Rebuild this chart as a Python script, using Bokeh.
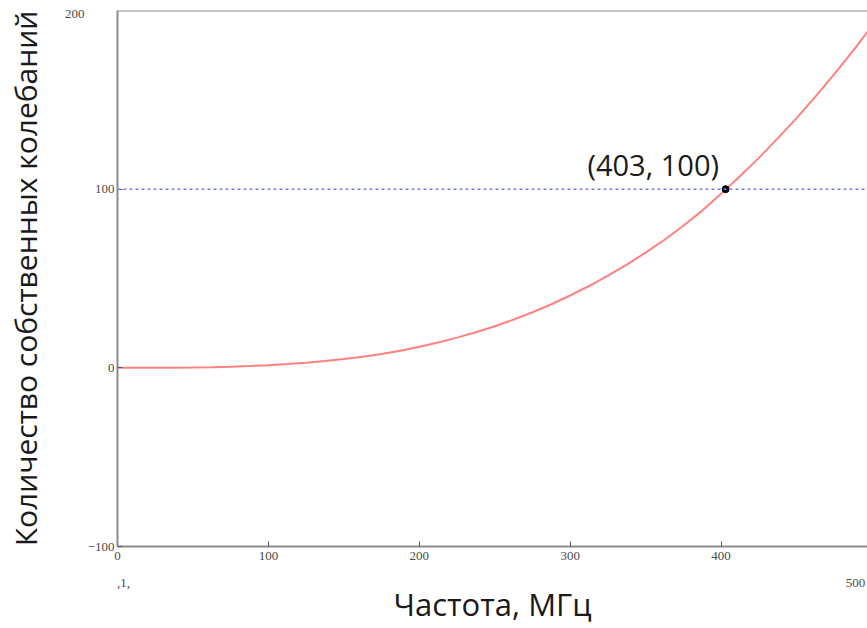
from bokeh.plotting import figure
from bokeh.models import Range1d, FixedTicker, Span, Label, LinearAxis
from bokeh.embed import file_html
from bokeh.resources import INLINE

# Data
freq = [0, 12.5, 25, 37.5, 50, 62.5, 75, 87.5, 100, 112.5, 125, 137.5, 150, 162.5, 175, 187.5,
        200, 212.5, 225, 237.5, 250, 262.5, 275, 287.5, 300, 312.5, 325, 337.5, 350, 362.5,
        375, 387.5, 400, 412.5, 425, 437.5, 450, 462.5, 475, 487.5, 497]
count = [0, 0.0, 0.03, 0.08, 0.2, 0.38, 0.65, 1.0, 1.5, 2.1, 2.9, 3.8, 4.9, 6.2, 7.7, 9.6,
         11.8, 14.2, 16.9, 19.9, 23.3, 27.0, 31.1, 35.6, 40.5, 45.8, 51.6, 57.8, 64.5, 71.7,
         79.5, 88.0, 97.5, 107.2, 117.5, 128.4, 139.8, 151.8, 164.4, 177.5, 188]
point_x = [403]
point_y = [100]
point_label = "(403, 100)"
level = 100
x_ticks = [0, 100, 200, 300, 400]
y_ticks = [-100, 0, 100]
x_title = "Частота, МГц"
y_title = "Количество собственных колебаний"

W, H = 867, 628
p = figure(width=W, height=H, output_backend="svg", toolbar_location=None,
           x_range=Range1d(0, 497), y_range=Range1d(-100, 200),
           min_border_left=117, min_border_top=10, min_border_right=0, min_border_bottom=82)
p.outline_line_color = None
p.background_fill_color = "white"
p.border_fill_color = "white"
p.grid.visible = False

axis_col = "#8c8c8c"
tick_font = "Liberation Serif"
tick_size = "13px"
tick_col = "#4a4a4a"
for ax in (p.xaxis[0], p.yaxis[0]):
    ax.axis_line_color = axis_col
    ax.axis_line_width = 2
    ax.major_tick_line_color = "#555555"
    ax.major_tick_in = 5
    ax.major_tick_out = 0
    ax.minor_tick_line_color = None
    ax.major_label_text_font = tick_font
    ax.major_label_text_font_size = tick_size
    ax.major_label_text_color = tick_col
p.xaxis.ticker = FixedTicker(ticks=x_ticks)
p.yaxis.ticker = FixedTicker(ticks=y_ticks)
p.yaxis.major_label_overrides = {-100: "\u2212100"}
p.xaxis.major_label_standoff = 5
p.yaxis.major_label_standoff = 3

title_font = "Open Sans"
title_col = "#1a1a1a"

# secondary axes carrying Mathcad-style range-limit labels and the titles
ax_b2 = LinearAxis(ticker=FixedTicker(ticks=[4, 489]),
                   major_label_overrides={4: ",1,", 489: "500"},
                   axis_line_color=None, major_tick_line_color=None, minor_tick_line_color=None,
                   major_tick_in=0, major_tick_out=0, major_label_standoff=16,
                   major_label_text_font=tick_font, major_label_text_font_size=tick_size,
                   major_label_text_color=tick_col,
                   axis_label=x_title, axis_label_standoff=-7,
                   axis_label_text_font=title_font, axis_label_text_font_size="31px",
                   axis_label_text_font_style="normal", axis_label_text_color=title_col)
p.add_layout(ax_b2, "below")

ax_l2 = LinearAxis(ticker=FixedTicker(ticks=[198]),
                   major_label_overrides={198: "200"},
                   axis_line_color=None, major_tick_line_color=None, minor_tick_line_color=None,
                   major_tick_in=0, major_tick_out=0, major_label_standoff=0,
                   major_label_text_font=tick_font, major_label_text_font_size=tick_size,
                   major_label_text_color=tick_col,
                   axis_label=y_title, axis_label_standoff=16,
                   axis_label_text_font=title_font, axis_label_text_font_size="30px",
                   axis_label_text_font_style="normal", axis_label_text_color=title_col)
p.add_layout(ax_l2, "left")

# top frame line
p.add_layout(Span(location=200, dimension="width", line_color=axis_col, line_width=2))
# dotted level
p.add_layout(Span(location=level, dimension="width", line_color="#7b7bff", line_width=1.5, line_dash="3 3"))

p.line(freq, count, line_color="#ff8080", line_width=2)
p.scatter(point_x, point_y, size=7, color="black")

p.add_layout(Label(x=355, y=114, text=point_label, text_font=title_font, text_font_size="29px",
                   text_color=title_col, text_align="center", text_baseline="middle"))

open("out.html", "w").write(file_html(p, INLINE))
